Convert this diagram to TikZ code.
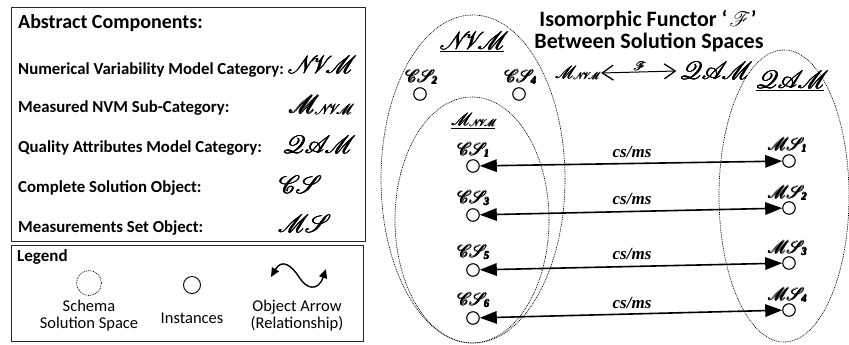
\documentclass[tikz,border=0pt]{standalone}
\usepackage{fontspec}
\setmainfont{Carlito}
\newfontfamily\relfont{Liberation Serif}
\usepackage{mathrsfs}
\usetikzlibrary{arrows.meta}
\newcommand{\rsf}{\usefont{U}{rsfs}{m}{n}}
\newcommand{\fb}[1]{\leavevmode\rlap{#1}\kern0.3pt\rlap{#1}\kern0.3pt\rlap{#1}\kern-0.6pt\raisebox{0.35pt}{#1}}
\newcommand{\ScrW}[2]{\fb{\fontsize{#1}{#1}\rsf #2}}
\newcommand{\MNVM}[2]{\fb{\fontsize{#1}{#1}\rsf M}\kern-0.08em\raisebox{-0.12em}{\fb{\fontsize{#2}{#2}\rsf NVM}}}
\newcommand{\Obj}[3]{\fb{\fontsize{#1}{#1}\rsf #2}\raisebox{-0.22em}{\fb{\relfont\bfseries\itshape\fontsize{11}{11}\selectfont #3}}}
\begin{document}
\begin{tikzpicture}[x=1pt,y=-1pt,
  panel/.style={draw=black!85, line width=0.9pt},
  head/.style={font=\bfseries\fontsize{20}{22}\selectfont, anchor=west, inner sep=0},
  item/.style={font=\bfseries\fontsize{16.8}{18}\selectfont, anchor=west, inner sep=0},
  sym/.style={inner sep=0},
  legtxt/.style={font=\fontsize{16.5}{17}\selectfont, align=center, inner sep=0},
  space/.style={draw, dash pattern=on 0.9pt off 0.9pt, line width=0.7pt},
  inst/.style={circle, draw, line width=1.1pt, minimum size=12.5pt, inner sep=0},
  lbl/.style={inner sep=0},
  rel/.style={line width=1.6pt, {Triangle[length=17pt,width=12.5pt]}-{Triangle[length=17pt,width=12.5pt]}},
  rellbl/.style={font=\relfont\bfseries\itshape\fontsize{17}{19}\selectfont, inner sep=0},
  title/.style={font=\bfseries\fontsize{22}{22}\selectfont, inner sep=0}
]
\useasboundingbox (0,0) rectangle (849,345);

% ---------- Abstract components panel ----------
\draw[panel] (11,7) rectangle (365,241);
\node[head] (hdr) at (18,23) {Abstract Components:};
\node[item] (i1) at (18,70) {Numerical Variability Model Category:};
\node[item] (i2) at (18,108) {Measured NVM Sub-Category:};
\node[item] (i3) at (18,148) {Quality Attributes Model Category:};
\node[item] (i4) at (18,188) {Complete Solution Object:};
\node[item] (i5) at (18,228) {Measurements Set Object:};
\node[sym] (s1) at (320,65) {\ScrW{23}{NVM}};
\node[sym] (s2) at (320,105) {\MNVM{23}{14}};
\node[sym] (s3) at (317,145) {\ScrW{23}{QAM}};
\node[sym] (s4) at (298,185) {\ScrW{23}{CS}};
\node[sym] (s5) at (302,224) {\ScrW{23}{MS}};

% ---------- Legend panel ----------
\draw[panel] (11,245) rectangle (363,341);
\node[head, font=\bfseries\fontsize{17}{18}\selectfont] (leg) at (17,257) {Legend};
\node[circle, space, minimum size=25pt, inner sep=0] (lsp) at (89,283) {};
\node[legtxt] (lspt) at (89,316) {Schema\\Solution Space};
\node[circle, draw, line width=0.9pt, minimum size=17pt, inner sep=0] (lin) at (192,285) {};
\node[legtxt] (lint) at (192,318) {Instances};
\coordinate (wA) at (271,277);
\coordinate (wB) at (326,269);
\draw[line width=1.4pt, {Triangle[length=9pt,width=8pt]}-{Triangle[length=9pt,width=8pt]}]
  (wA) .. controls (282,258) and (292,266) .. (299,277)
       .. controls (306,289) and (318,292) .. (wB);
\node[legtxt] (lobt) at (297,316) {Object Arrow\\(Relationship)};

% ---------- Solution spaces ----------
\draw[space] (473,179) ellipse [x radius=92pt, y radius=164pt];
\draw[space] (472,220) ellipse [x radius=77pt, y radius=123pt];
\draw[space] (784,196) ellipse [x radius=65pt, y radius=146pt];

\node[lbl] (nvmlbl) at (472,42) {\underline{\ScrW{24}{NVM}}};
\node[lbl] (qamlbl) at (790,81) {\underline{\ScrW{23}{QAM}}};
\node[lbl] (mnvmlbl) at (473,121) {\underline{\MNVM{16}{10}}};

% instances in NVM
\node[lbl] (cs2l) at (421,77) {\Obj{19}{CS}{2}};
\node[inst] (cs2) at (420,94) {};
\node[lbl] (cs4l) at (520,77) {\Obj{19}{CS}{4}};
\node[inst] (cs4) at (519,94) {};

\node[lbl] (cs1l) at (473,150) {\Obj{19}{CS}{1}};
\node[inst] (cs1) at (473,166) {};
\node[lbl] (cs3l) at (473,198) {\Obj{19}{CS}{3}};
\node[inst] (cs3) at (473,215) {};
\node[lbl] (cs5l) at (473,252) {\Obj{19}{CS}{5}};
\node[inst] (cs5) at (473,270) {};
\node[lbl] (cs6l) at (473,300) {\Obj{19}{CS}{6}};
\node[inst] (cs6) at (473,318) {};

% instances in QAM
\node[lbl] (ms1l) at (787,145) {\Obj{19}{MS}{1}};
\node[inst] (ms1) at (789,161) {};
\node[lbl] (ms2l) at (787,193) {\Obj{19}{MS}{2}};
\node[inst] (ms2) at (789,208) {};
\node[lbl] (ms3l) at (787,248) {\Obj{19}{MS}{3}};
\node[inst] (ms3) at (789,263) {};
\node[lbl] (ms4l) at (787,295) {\Obj{19}{MS}{4}};
\node[inst] (ms4) at (789,310) {};

% relationships
\draw[rel] (cs1) -- (ms1);
\draw[rel] (cs3) -- (ms2);
\draw[rel] (cs5) -- (ms3);
\draw[rel] (cs6) -- (ms4);
\node[rellbl] (r1) at (632,152) {cs/ms};
\node[rellbl] (r2) at (632,199) {cs/ms};
\node[rellbl] (r3) at (632,254) {cs/ms};
\node[rellbl] (r4) at (632,303) {cs/ms};

% ---------- Functor title ----------
\node[title, anchor=base] (t1) at (648,27) {Isomorphic Functor ‘\kern2pt{\fontsize{20}{20}\rsf F}\kern3pt’};
\node[title, anchor=base] (t2) at (649,49) {Between Solution Spaces};
\node[lbl] (fm) at (577,73) {\MNVM{16}{10}};
\node[lbl] (fq) at (714,71) {\ScrW{24}{QAM}};
\draw[line width=1pt, {Straight Barb[length=11pt,width=15pt,line width=1.3pt]}-{Straight Barb[length=11pt,width=15pt,line width=1.3pt]}]
  ([xshift=2pt]fm.east) -- node[above=0pt, inner sep=1pt] (fF) {\ScrW{12}{F}} ([xshift=-3pt]fq.west);
\end{tikzpicture}
\end{document}
